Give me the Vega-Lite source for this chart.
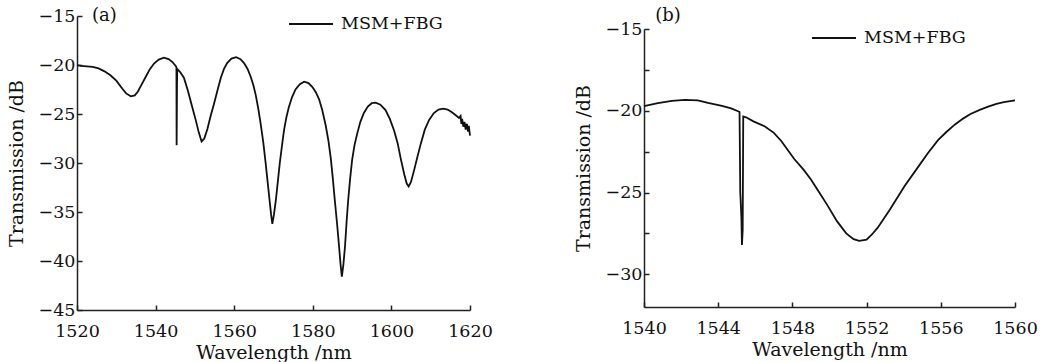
{
  "$schema": "https://vega.github.io/schema/vega-lite/v6.json",
  "padding": {"left": 7, "top": 1, "right": 5, "bottom": 0},
  "background": "white",
  "config": {
    "font": "DejaVu Serif",
    "view": {"stroke": null},
    "concat": {"spacing": 81},
    "axis": {
      "grid": false,
      "domainColor": "#222222",
      "domainWidth": 1.5,
      "tickColor": "#222222",
      "tickWidth": 1.5,
      "tickSize": -5,
      "labelFont": "DejaVu Serif",
      "labelFontSize": 17.5,
      "labelColor": "#111111",
      "labelOverlap": false,
      "labelFlush": false,
      "labelBound": false,
      "titleFont": "DejaVu Serif",
      "titleFontSize": 19,
      "titleFontWeight": "normal",
      "titleColor": "#111111",
      "format": "d"
    },
    "legend": {
      "orient": "none",
      "title": null,
      "symbolType": "stroke",
      "symbolSize": 1936,
      "symbolStrokeWidth": 1.8,
      "labelFont": "DejaVu Serif",
      "labelFontSize": 17.5,
      "labelColor": "#111111",
      "labelOffset": 7,
      "padding": 0
    }
  },
  "resolve": {"scale": {"color": "independent"}, "legend": {"color": "independent"}},
  "datasets": {
    "a": [
      {"wl": 1520, "T": -20.0}, {"wl": 1521, "T": -20.1}, {"wl": 1522.5, "T": -20.15}, {"wl": 1524, "T": -20.2},
      {"wl": 1525.5, "T": -20.35}, {"wl": 1527, "T": -20.65}, {"wl": 1528.5, "T": -21.05}, {"wl": 1530, "T": -21.6},
      {"wl": 1531.5, "T": -22.4}, {"wl": 1532.5, "T": -22.9}, {"wl": 1533.7, "T": -23.2}, {"wl": 1534.7, "T": -23.1},
      {"wl": 1535.5, "T": -22.7}, {"wl": 1536.5, "T": -21.95}, {"wl": 1537.5, "T": -21.2}, {"wl": 1538.5, "T": -20.45},
      {"wl": 1539.6, "T": -19.85}, {"wl": 1540.8, "T": -19.45}, {"wl": 1542.1, "T": -19.25}, {"wl": 1543.3, "T": -19.4},
      {"wl": 1544.3, "T": -19.7}, {"wl": 1545.2, "T": -20.15}, {"wl": 1545.3, "T": -20.25}, {"wl": 1545.35, "T": -28.2},
      {"wl": 1545.45, "T": -22.0}, {"wl": 1545.5, "T": -20.4}, {"wl": 1546.2, "T": -20.7}, {"wl": 1547.2, "T": -21.3},
      {"wl": 1548.2, "T": -22.6}, {"wl": 1549.2, "T": -24.1}, {"wl": 1550.2, "T": -25.6}, {"wl": 1551, "T": -26.9},
      {"wl": 1551.7, "T": -27.8}, {"wl": 1552.4, "T": -27.5}, {"wl": 1553.2, "T": -26.5}, {"wl": 1554, "T": -25.2},
      {"wl": 1554.9, "T": -23.9}, {"wl": 1555.8, "T": -22.5}, {"wl": 1556.6, "T": -21.3}, {"wl": 1557.4, "T": -20.4},
      {"wl": 1558.2, "T": -19.8}, {"wl": 1559.3, "T": -19.35}, {"wl": 1560.5, "T": -19.2}, {"wl": 1561.6, "T": -19.4},
      {"wl": 1562.5, "T": -19.8}, {"wl": 1563.4, "T": -20.4}, {"wl": 1564.2, "T": -21.2}, {"wl": 1564.9, "T": -22.1},
      {"wl": 1565.5, "T": -23.1}, {"wl": 1566.1, "T": -24.4}, {"wl": 1566.7, "T": -25.9}, {"wl": 1567.4, "T": -27.9},
      {"wl": 1568, "T": -30.0}, {"wl": 1568.5, "T": -31.9}, {"wl": 1569, "T": -33.8}, {"wl": 1569.4, "T": -35.3},
      {"wl": 1569.7, "T": -36.2}, {"wl": 1570.1, "T": -35.3}, {"wl": 1570.6, "T": -33.8}, {"wl": 1571.1, "T": -31.9},
      {"wl": 1571.6, "T": -30.0}, {"wl": 1572.2, "T": -28.1}, {"wl": 1572.7, "T": -26.6}, {"wl": 1573.3, "T": -25.3},
      {"wl": 1573.9, "T": -24.3}, {"wl": 1574.7, "T": -23.3}, {"wl": 1575.6, "T": -22.5}, {"wl": 1576.7, "T": -21.95},
      {"wl": 1577.8, "T": -21.7}, {"wl": 1578.9, "T": -21.85}, {"wl": 1579.9, "T": -22.25}, {"wl": 1580.8, "T": -22.8},
      {"wl": 1581.6, "T": -23.5}, {"wl": 1582.4, "T": -24.6}, {"wl": 1583.3, "T": -26.2}, {"wl": 1584, "T": -27.8},
      {"wl": 1584.6, "T": -29.6}, {"wl": 1585.1, "T": -31.6}, {"wl": 1585.6, "T": -33.8}, {"wl": 1586.2, "T": -36.3},
      {"wl": 1586.7, "T": -38.6}, {"wl": 1587.1, "T": -40.5}, {"wl": 1587.4, "T": -41.6}, {"wl": 1587.8, "T": -40.3},
      {"wl": 1588.2, "T": -38.5}, {"wl": 1588.6, "T": -36.0}, {"wl": 1589, "T": -33.8}, {"wl": 1589.5, "T": -31.6},
      {"wl": 1590, "T": -29.7}, {"wl": 1590.6, "T": -28.2}, {"wl": 1591.3, "T": -27.0}, {"wl": 1592.1, "T": -25.8},
      {"wl": 1593, "T": -24.9}, {"wl": 1594, "T": -24.25}, {"wl": 1595, "T": -23.9}, {"wl": 1596, "T": -23.85},
      {"wl": 1597.2, "T": -24.05}, {"wl": 1598.5, "T": -24.6}, {"wl": 1599.6, "T": -25.5}, {"wl": 1600.7, "T": -26.7},
      {"wl": 1601.6, "T": -28.0}, {"wl": 1602.4, "T": -29.6}, {"wl": 1603.3, "T": -31.2}, {"wl": 1603.9, "T": -32.1},
      {"wl": 1604.4, "T": -32.4}, {"wl": 1605, "T": -31.9}, {"wl": 1605.8, "T": -30.7}, {"wl": 1606.6, "T": -29.4},
      {"wl": 1607.5, "T": -28.0}, {"wl": 1608.5, "T": -26.6}, {"wl": 1609.6, "T": -25.6}, {"wl": 1610.8, "T": -24.9},
      {"wl": 1612, "T": -24.55}, {"wl": 1613.2, "T": -24.45}, {"wl": 1614.3, "T": -24.55}, {"wl": 1615.3, "T": -24.8},
      {"wl": 1616.3, "T": -25.1}, {"wl": 1617.2, "T": -25.4}, {"wl": 1617.6, "T": -25.2}, {"wl": 1617.8, "T": -26.0},
      {"wl": 1618.0, "T": -25.5}, {"wl": 1618.3, "T": -26.3}, {"wl": 1618.6, "T": -25.8}, {"wl": 1618.9, "T": -26.6},
      {"wl": 1619.2, "T": -26.0}, {"wl": 1619.5, "T": -26.8}, {"wl": 1619.7, "T": -26.2}, {"wl": 1620, "T": -27.2}
    ],
    "b": [
      {"wl": 1540, "T": -19.72}, {"wl": 1540.75, "T": -19.53}, {"wl": 1541.5, "T": -19.4}, {"wl": 1542.2, "T": -19.33},
      {"wl": 1542.9, "T": -19.37}, {"wl": 1543.45, "T": -19.52}, {"wl": 1544.2, "T": -19.7}, {"wl": 1544.7, "T": -19.85},
      {"wl": 1545.1, "T": -20.04}, {"wl": 1545.15, "T": -20.08}, {"wl": 1545.19, "T": -25.0}, {"wl": 1545.25, "T": -26.5},
      {"wl": 1545.28, "T": -28.2}, {"wl": 1545.32, "T": -27.3}, {"wl": 1545.35, "T": -20.35}, {"wl": 1545.5, "T": -20.4},
      {"wl": 1545.9, "T": -20.65}, {"wl": 1546.5, "T": -20.95}, {"wl": 1547.0, "T": -21.35}, {"wl": 1547.4, "T": -21.85},
      {"wl": 1548.1, "T": -22.95}, {"wl": 1548.6, "T": -23.6}, {"wl": 1549.0, "T": -24.2}, {"wl": 1549.45, "T": -25.0},
      {"wl": 1549.9, "T": -25.8}, {"wl": 1550.4, "T": -26.75}, {"wl": 1550.9, "T": -27.5}, {"wl": 1551.3, "T": -27.85},
      {"wl": 1551.6, "T": -27.95}, {"wl": 1552.0, "T": -27.88}, {"wl": 1552.3, "T": -27.55}, {"wl": 1552.6, "T": -27.15},
      {"wl": 1553.25, "T": -26.05}, {"wl": 1554.05, "T": -24.6}, {"wl": 1554.8, "T": -23.4}, {"wl": 1555.3, "T": -22.6},
      {"wl": 1555.85, "T": -21.8}, {"wl": 1556.3, "T": -21.3}, {"wl": 1556.75, "T": -20.85}, {"wl": 1557.2, "T": -20.48},
      {"wl": 1557.6, "T": -20.2}, {"wl": 1558.1, "T": -19.95}, {"wl": 1558.55, "T": -19.75}, {"wl": 1559.0, "T": -19.58},
      {"wl": 1559.4, "T": -19.47}, {"wl": 1560, "T": -19.37}
    ]
  },
  "hconcat": [
    {
      "width": 393,
      "height": 294,
      "layer": [
        {
          "data": {"name": "a"},
          "mark": {"type": "line", "strokeWidth": 1.8},
          "encoding": {
            "x": {
              "field": "wl", "type": "quantitative",
              "scale": {"domain": [1520, 1620], "nice": false, "zero": false},
              "axis": {
                "title": "Wavelength /nm",
                "values": [1520, 1530, 1540, 1550, 1560, 1570, 1580, 1590, 1600, 1610, 1620],
                "labelExpr": "datum.value % 20 === 0 ? datum.label : ''",
                "labelPadding": 17,
                "titlePadding": 4
              }
            },
            "y": {
              "field": "T", "type": "quantitative",
              "scale": {"domain": [-45, -15], "nice": false, "zero": false},
              "axis": {
                "title": "Transmission /dB",
                "values": [-45, -42.5, -40, -37.5, -35, -32.5, -30, -27.5, -25, -22.5, -20, -17.5, -15],
                "labelExpr": "datum.value % 5 === 0 ? datum.label : ''",
                "labelPadding": 7,
                "titlePadding": 12
              }
            },
            "color": {
              "datum": "MSM+FBG",
              "scale": {"range": ["#111111"]},
              "legend": {"legendX": 211, "legendY": -15}
            }
          }
        },
        {
          "data": {"values": [{"t": "(a)"}]},
          "mark": {"type": "text", "align": "left", "baseline": "middle", "fontSize": 18, "font": "DejaVu Serif", "color": "#111111"},
          "encoding": {
            "x": {"datum": 1523.8, "type": "quantitative"},
            "y": {"datum": -15, "type": "quantitative"},
            "text": {"field": "t"}
          }
        }
      ]
    },
    {
      "bounds": "flush",
      "spacing": 12,
      "vconcat": [
        {
          "width": 371,
          "height": 1,
          "data": {"values": []},
          "mark": "text"
        },
        {
          "width": 371,
          "height": 278,
          "layer": [
            {
              "data": {"name": "b"},
              "mark": {"type": "line", "strokeWidth": 1.8},
              "encoding": {
                "x": {
                  "field": "wl", "type": "quantitative",
                  "scale": {"domain": [1540, 1560], "nice": false, "zero": false},
                  "axis": {
                    "title": "Wavelength /nm",
                    "values": [1540, 1542, 1544, 1546, 1548, 1550, 1552, 1554, 1556, 1558, 1560],
                    "labelExpr": "datum.value % 4 === 0 ? datum.label : ''",
                    "labelPadding": 17,
                    "titlePadding": 4
                  }
                },
                "y": {
                  "field": "T", "type": "quantitative",
                  "scale": {"domain": [-32, -15], "nice": false, "zero": false},
                  "axis": {
                    "title": "Transmission /dB",
                    "values": [-30, -27.5, -25, -22.5, -20, -17.5, -15],
                    "labelExpr": "datum.value % 5 === 0 ? datum.label : ''",
                    "labelPadding": 7,
                    "titlePadding": 12
                  }
                },
                "color": {
                  "datum": "MSM+FBG",
                  "scale": {"range": ["#111111"]},
                  "legend": {"legendX": 167, "legendY": -1}
                }
              }
            },
            {
              "data": {"values": [{"t": "(b)"}]},
              "mark": {"type": "text", "align": "left", "baseline": "middle", "fontSize": 18, "font": "DejaVu Serif", "color": "#111111"},
              "encoding": {
                "x": {"datum": 1540.6, "type": "quantitative"},
                "y": {"datum": -14.2, "type": "quantitative"},
                "text": {"field": "t"}
              }
            }
          ]
        }
      ]
    }
  ]
}
